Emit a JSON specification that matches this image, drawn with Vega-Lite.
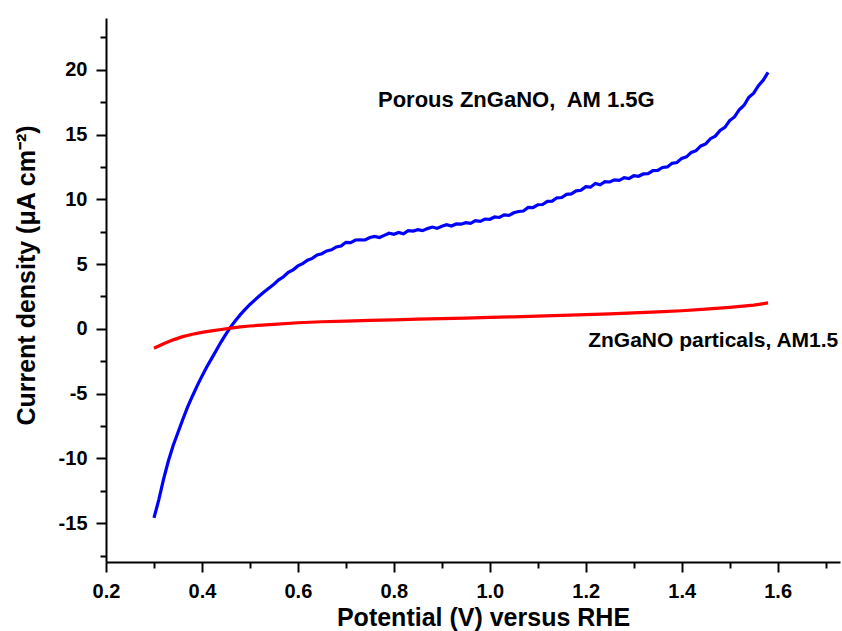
{
  "$schema": "https://vega.github.io/schema/vega-lite/v6.json",
  "width": 734,
  "height": 544,
  "autosize": "none",
  "padding": {"left": 106, "top": 18, "right": 2, "bottom": 69},
  "background": "white",
  "config": {
    "view": {"stroke": null},
    "axis": {
      "grid": false,
      "domainColor": "black",
      "domainWidth": 2,
      "tickColor": "black",
      "tickWidth": 2,
      "tickSize": 10,
      "labelFont": "Liberation Sans",
      "labelFontWeight": "bold",
      "labelFontSize": 20,
      "labelColor": "black",
      "labelOverlap": false,
      "labelFlush": false,
      "titleFont": "Liberation Sans",
      "titleFontWeight": "bold",
      "titleFontSize": 25,
      "titleColor": "black"
    }
  },
  "datasets": {
    "curves": [
      {"V": 0.30, "J": -14.6, "s": "Porous"},
      {"V": 0.31, "J": -13.2, "s": "Porous"},
      {"V": 0.32, "J": -11.6, "s": "Porous"},
      {"V": 0.33, "J": -10.2, "s": "Porous"},
      {"V": 0.34, "J": -9.0, "s": "Porous"},
      {"V": 0.35, "J": -8.0, "s": "Porous"},
      {"V": 0.36, "J": -7.0, "s": "Porous"},
      {"V": 0.37, "J": -6.05, "s": "Porous"},
      {"V": 0.38, "J": -5.2, "s": "Porous"},
      {"V": 0.39, "J": -4.4, "s": "Porous"},
      {"V": 0.40, "J": -3.65, "s": "Porous"},
      {"V": 0.41, "J": -2.95, "s": "Porous"},
      {"V": 0.42, "J": -2.3, "s": "Porous"},
      {"V": 0.43, "J": -1.65, "s": "Porous"},
      {"V": 0.44, "J": -1.0, "s": "Porous"},
      {"V": 0.45, "J": -0.4, "s": "Porous"},
      {"V": 0.46, "J": 0.15, "s": "Porous"},
      {"V": 0.47, "J": 0.65, "s": "Porous"},
      {"V": 0.48, "J": 1.1, "s": "Porous"},
      {"V": 0.49, "J": 1.5, "s": "Porous"},
      {"V": 0.50, "J": 1.88, "s": "Porous"},
      {"V": 0.51, "J": 2.22, "s": "Porous"},
      {"V": 0.52, "J": 2.55, "s": "Porous"},
      {"V": 0.53, "J": 2.86, "s": "Porous"},
      {"V": 0.54, "J": 3.15, "s": "Porous"},
      {"V": 0.55, "J": 3.45, "s": "Porous"},
      {"V": 0.56, "J": 3.78, "s": "Porous"},
      {"V": 0.57, "J": 4.02, "s": "Porous"},
      {"V": 0.58, "J": 4.36, "s": "Porous"},
      {"V": 0.59, "J": 4.56, "s": "Porous"},
      {"V": 0.60, "J": 4.86, "s": "Porous"},
      {"V": 0.61, "J": 5.04, "s": "Porous"},
      {"V": 0.62, "J": 5.3, "s": "Porous"},
      {"V": 0.63, "J": 5.44, "s": "Porous"},
      {"V": 0.64, "J": 5.7, "s": "Porous"},
      {"V": 0.65, "J": 5.8, "s": "Porous"},
      {"V": 0.66, "J": 6.02, "s": "Porous"},
      {"V": 0.67, "J": 6.1, "s": "Porous"},
      {"V": 0.68, "J": 6.32, "s": "Porous"},
      {"V": 0.69, "J": 6.4, "s": "Porous"},
      {"V": 0.70, "J": 6.68, "s": "Porous"},
      {"V": 0.71, "J": 6.66, "s": "Porous"},
      {"V": 0.72, "J": 6.86, "s": "Porous"},
      {"V": 0.73, "J": 6.88, "s": "Porous"},
      {"V": 0.74, "J": 6.86, "s": "Porous"},
      {"V": 0.75, "J": 7.05, "s": "Porous"},
      {"V": 0.76, "J": 7.14, "s": "Porous"},
      {"V": 0.77, "J": 7.05, "s": "Porous"},
      {"V": 0.78, "J": 7.22, "s": "Porous"},
      {"V": 0.79, "J": 7.38, "s": "Porous"},
      {"V": 0.80, "J": 7.3, "s": "Porous"},
      {"V": 0.81, "J": 7.44, "s": "Porous"},
      {"V": 0.82, "J": 7.34, "s": "Porous"},
      {"V": 0.83, "J": 7.58, "s": "Porous"},
      {"V": 0.84, "J": 7.55, "s": "Porous"},
      {"V": 0.85, "J": 7.66, "s": "Porous"},
      {"V": 0.86, "J": 7.58, "s": "Porous"},
      {"V": 0.87, "J": 7.74, "s": "Porous"},
      {"V": 0.88, "J": 7.86, "s": "Porous"},
      {"V": 0.89, "J": 7.76, "s": "Porous"},
      {"V": 0.90, "J": 7.92, "s": "Porous"},
      {"V": 0.91, "J": 8.04, "s": "Porous"},
      {"V": 0.92, "J": 7.94, "s": "Porous"},
      {"V": 0.93, "J": 8.1, "s": "Porous"},
      {"V": 0.94, "J": 8.08, "s": "Porous"},
      {"V": 0.95, "J": 8.2, "s": "Porous"},
      {"V": 0.96, "J": 8.14, "s": "Porous"},
      {"V": 0.97, "J": 8.36, "s": "Porous"},
      {"V": 0.98, "J": 8.3, "s": "Porous"},
      {"V": 0.99, "J": 8.48, "s": "Porous"},
      {"V": 1.00, "J": 8.46, "s": "Porous"},
      {"V": 1.01, "J": 8.64, "s": "Porous"},
      {"V": 1.02, "J": 8.6, "s": "Porous"},
      {"V": 1.03, "J": 8.8, "s": "Porous"},
      {"V": 1.04, "J": 8.76, "s": "Porous"},
      {"V": 1.05, "J": 8.96, "s": "Porous"},
      {"V": 1.06, "J": 9.06, "s": "Porous"},
      {"V": 1.07, "J": 9.1, "s": "Porous"},
      {"V": 1.08, "J": 9.38, "s": "Porous"},
      {"V": 1.09, "J": 9.36, "s": "Porous"},
      {"V": 1.10, "J": 9.58, "s": "Porous"},
      {"V": 1.11, "J": 9.6, "s": "Porous"},
      {"V": 1.12, "J": 9.84, "s": "Porous"},
      {"V": 1.13, "J": 9.86, "s": "Porous"},
      {"V": 1.14, "J": 10.12, "s": "Porous"},
      {"V": 1.15, "J": 10.14, "s": "Porous"},
      {"V": 1.16, "J": 10.38, "s": "Porous"},
      {"V": 1.17, "J": 10.42, "s": "Porous"},
      {"V": 1.18, "J": 10.66, "s": "Porous"},
      {"V": 1.19, "J": 10.7, "s": "Porous"},
      {"V": 1.20, "J": 10.98, "s": "Porous"},
      {"V": 1.21, "J": 10.94, "s": "Porous"},
      {"V": 1.22, "J": 11.22, "s": "Porous"},
      {"V": 1.23, "J": 11.12, "s": "Porous"},
      {"V": 1.24, "J": 11.36, "s": "Porous"},
      {"V": 1.25, "J": 11.34, "s": "Porous"},
      {"V": 1.26, "J": 11.5, "s": "Porous"},
      {"V": 1.27, "J": 11.46, "s": "Porous"},
      {"V": 1.28, "J": 11.68, "s": "Porous"},
      {"V": 1.29, "J": 11.6, "s": "Porous"},
      {"V": 1.30, "J": 11.82, "s": "Porous"},
      {"V": 1.31, "J": 11.78, "s": "Porous"},
      {"V": 1.32, "J": 11.96, "s": "Porous"},
      {"V": 1.33, "J": 11.98, "s": "Porous"},
      {"V": 1.34, "J": 12.22, "s": "Porous"},
      {"V": 1.35, "J": 12.24, "s": "Porous"},
      {"V": 1.36, "J": 12.46, "s": "Porous"},
      {"V": 1.37, "J": 12.5, "s": "Porous"},
      {"V": 1.38, "J": 12.78, "s": "Porous"},
      {"V": 1.39, "J": 12.84, "s": "Porous"},
      {"V": 1.40, "J": 13.16, "s": "Porous"},
      {"V": 1.41, "J": 13.28, "s": "Porous"},
      {"V": 1.42, "J": 13.62, "s": "Porous"},
      {"V": 1.43, "J": 13.76, "s": "Porous"},
      {"V": 1.44, "J": 14.12, "s": "Porous"},
      {"V": 1.45, "J": 14.28, "s": "Porous"},
      {"V": 1.46, "J": 14.68, "s": "Porous"},
      {"V": 1.47, "J": 14.88, "s": "Porous"},
      {"V": 1.48, "J": 15.32, "s": "Porous"},
      {"V": 1.49, "J": 15.56, "s": "Porous"},
      {"V": 1.50, "J": 16.08, "s": "Porous"},
      {"V": 1.51, "J": 16.36, "s": "Porous"},
      {"V": 1.52, "J": 16.92, "s": "Porous"},
      {"V": 1.53, "J": 17.26, "s": "Porous"},
      {"V": 1.54, "J": 17.88, "s": "Porous"},
      {"V": 1.55, "J": 18.2, "s": "Porous"},
      {"V": 1.56, "J": 18.78, "s": "Porous"},
      {"V": 1.57, "J": 19.2, "s": "Porous"},
      {"V": 1.58, "J": 19.8, "s": "Porous"},
      {"V": 0.30, "J": -1.5, "s": "Particles"},
      {"V": 0.32, "J": -1.15, "s": "Particles"},
      {"V": 0.34, "J": -0.85, "s": "Particles"},
      {"V": 0.36, "J": -0.6, "s": "Particles"},
      {"V": 0.38, "J": -0.42, "s": "Particles"},
      {"V": 0.40, "J": -0.27, "s": "Particles"},
      {"V": 0.42, "J": -0.15, "s": "Particles"},
      {"V": 0.44, "J": -0.05, "s": "Particles"},
      {"V": 0.46, "J": 0.05, "s": "Particles"},
      {"V": 0.48, "J": 0.15, "s": "Particles"},
      {"V": 0.50, "J": 0.22, "s": "Particles"},
      {"V": 0.55, "J": 0.35, "s": "Particles"},
      {"V": 0.60, "J": 0.47, "s": "Particles"},
      {"V": 0.65, "J": 0.55, "s": "Particles"},
      {"V": 0.70, "J": 0.6, "s": "Particles"},
      {"V": 0.75, "J": 0.66, "s": "Particles"},
      {"V": 0.80, "J": 0.7, "s": "Particles"},
      {"V": 0.85, "J": 0.75, "s": "Particles"},
      {"V": 0.90, "J": 0.79, "s": "Particles"},
      {"V": 0.95, "J": 0.83, "s": "Particles"},
      {"V": 1.00, "J": 0.88, "s": "Particles"},
      {"V": 1.05, "J": 0.93, "s": "Particles"},
      {"V": 1.10, "J": 0.99, "s": "Particles"},
      {"V": 1.15, "J": 1.04, "s": "Particles"},
      {"V": 1.20, "J": 1.1, "s": "Particles"},
      {"V": 1.25, "J": 1.16, "s": "Particles"},
      {"V": 1.30, "J": 1.23, "s": "Particles"},
      {"V": 1.35, "J": 1.31, "s": "Particles"},
      {"V": 1.40, "J": 1.4, "s": "Particles"},
      {"V": 1.45, "J": 1.52, "s": "Particles"},
      {"V": 1.50, "J": 1.66, "s": "Particles"},
      {"V": 1.55, "J": 1.83, "s": "Particles"},
      {"V": 1.58, "J": 2.0, "s": "Particles"}
    ],
    "notes": [
      {"V": 0.767, "J": 17.7, "label": "Porous ZnGaNO,\u00a0 AM 1.5G", "which": "porous"},
      {"V": 1.205, "J": -0.95, "label": "ZnGaNO particals, AM1.5", "which": "particles"}
    ]
  },
  "encoding": {
    "x": {
      "field": "V", "type": "quantitative",
      "scale": {"domain": [0.2, 1.73], "nice": false, "zero": false},
      "axis": {
        "title": "Potential (V) versus RHE",
        "values": [0.2, 0.3, 0.4, 0.5, 0.6, 0.7, 0.8, 0.9, 1.0, 1.1, 1.2, 1.3, 1.4, 1.5, 1.6, 1.7],
        "labelExpr": "round(datum.value*10) % 2 == 0 ? format(datum.value, '.1f') : ''",
        "encoding": {"ticks": {"y2": {"condition": {"test": "round(datum.value*10) % 2 == 0", "value": 10}, "value": 6}}},
        "labelPadding": 9,
        "titlePadding": 4,
        "titleX": 377
      }
    },
    "y": {
      "field": "J", "type": "quantitative",
      "scale": {"domain": [-18, 24], "nice": false, "zero": false},
      "axis": {
        "title": "Current density (μA cm⁻²)",
        "values": [-17.5, -15, -12.5, -10, -7.5, -5, -2.5, 0, 2.5, 5, 7.5, 10, 12.5, 15, 17.5, 20, 22.5],
        "labelExpr": "round(datum.value*2) % 10 == 0 ? '' + round(datum.value) : ''",
        "encoding": {"ticks": {"x2": {"condition": {"test": "round(datum.value*2) % 10 == 0", "value": -10}, "value": -6}}},
        "labelPadding": 9,
        "titlePadding": 19,
        "titleY": 257
      }
    }
  },
  "layer": [
    {
      "data": {"name": "curves"},
      "mark": {"type": "line", "strokeWidth": 3.2, "clip": true},
      "encoding": {
        "color": {
          "field": "s", "type": "nominal",
          "scale": {"domain": ["Porous", "Particles"], "range": ["#0000ff", "#ff0000"]},
          "legend": null
        }
      }
    },
    {
      "data": {"name": "notes"},
      "transform": [{"filter": "datum.which == 'porous'"}],
      "mark": {"type": "text", "align": "left", "baseline": "middle", "font": "Liberation Sans", "fontWeight": "bold", "fontSize": 22, "color": "black"},
      "encoding": {
        "text": {"field": "label"}
      }
    },
    {
      "data": {"name": "notes"},
      "transform": [{"filter": "datum.which == 'particles'"}],
      "mark": {"type": "text", "align": "left", "baseline": "middle", "font": "Liberation Sans", "fontWeight": "bold", "fontSize": 21, "color": "black"},
      "encoding": {
        "text": {"field": "label"}
      }
    }
  ]
}
